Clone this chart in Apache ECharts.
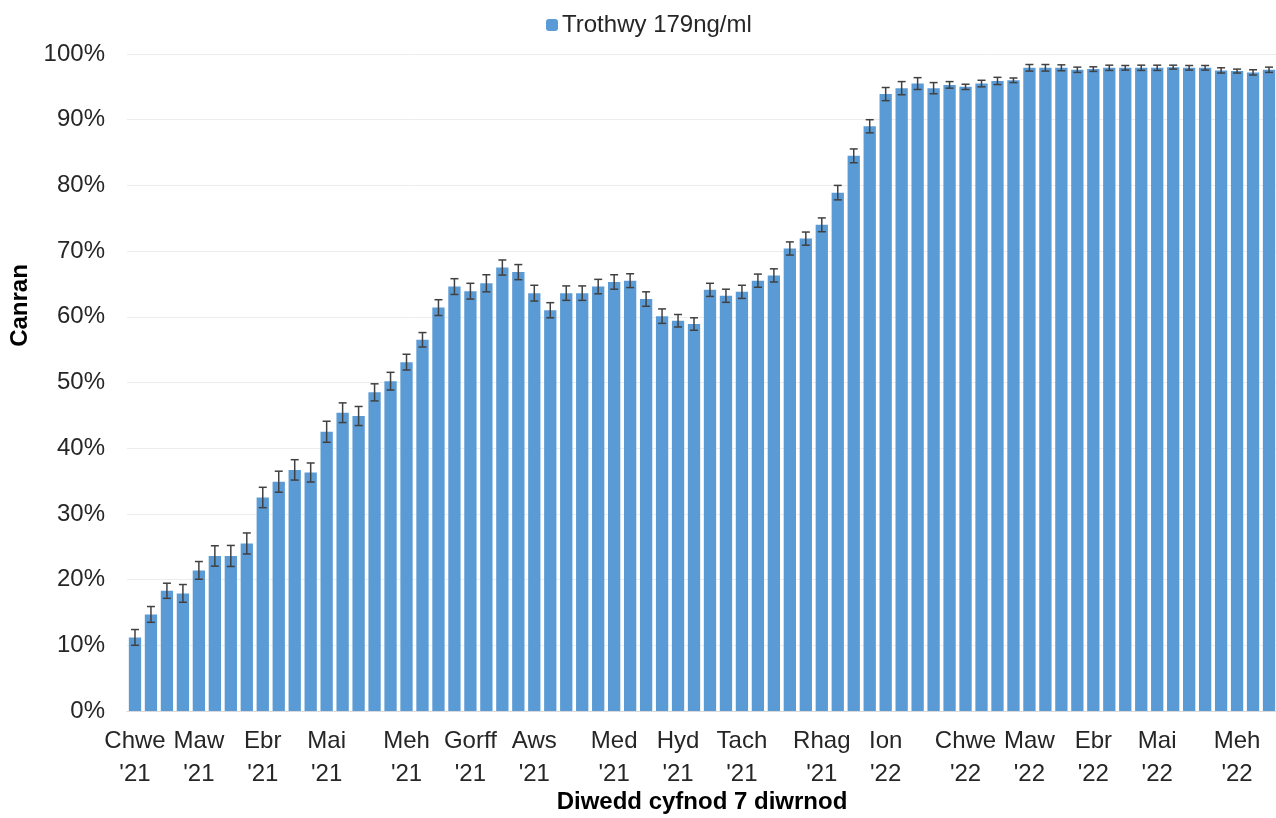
<!DOCTYPE html>
<html>
<head>
<meta charset="utf-8">
<script src="https://cdn.jsdelivr.net/npm/echarts@6/dist/echarts.min.js"></script>
<style>
  html, body { margin: 0; padding: 0; background: #fff; }
  #chart { width: 1276px; height: 818px; }
</style>
</head>
<body>
<div id="chart"></div>
<script>
// Week labels: only the first week of each month carries a label
const labelIndex = [0, 4, 8, 12, 17, 21, 25, 30, 34, 38, 43, 47, 52, 56, 60, 64, 69];
const labelText = [
  "Chwe\n'21", "Maw\n'21", "Ebr\n'21", "Mai\n'21", "Meh\n'21", "Gorff\n'21",
  "Aws\n'21", "Med\n'21", "Hyd\n'21", "Tach\n'21", "Rhag\n'21", "Ion\n'22",
  "Chwe\n'22", "Maw\n'22", "Ebr\n'22", "Mai\n'22", "Meh\n'22"
];

// Percentage of samples above threshold (179ng/ml), weekly
const values = [
  11.2, 14.7, 18.3, 17.9, 21.4, 23.6, 23.6, 25.5, 32.5, 34.9,
  36.7, 36.3, 42.5, 45.4, 44.9, 48.5, 50.2, 53.1, 56.5, 61.4,
  64.6, 63.9, 65.1, 67.5, 66.8, 63.6, 61.0, 63.6, 63.6, 64.6,
  65.3, 65.5, 62.7, 60.1, 59.4, 58.9, 64.1, 63.2, 63.8, 65.5,
  66.3, 70.4, 71.9, 74.0, 78.9, 84.5, 89.0, 93.9, 94.8, 95.5,
  94.8, 95.3, 95.0, 95.5, 95.9, 96.0, 97.9, 97.9, 97.9, 97.6,
  97.7, 97.9, 97.9, 97.9, 97.9, 98.0, 97.9, 97.9, 97.5, 97.4,
  97.2, 97.6
];

// Half-width of the confidence interval (percentage points)
const errors = [
  1.2, 1.2, 1.15, 1.35, 1.35, 1.55, 1.6, 1.6, 1.55, 1.6,
  1.55, 1.45, 1.6, 1.5, 1.45, 1.3, 1.35, 1.2, 1.1, 1.2,
  1.2, 1.2, 1.3, 1.15, 1.15, 1.2, 1.15, 1.1, 1.1, 1.1,
  1.1, 1.05, 1.1, 1.1, 0.95, 0.95, 1.0, 1.0, 1.0, 1.0,
  1.0, 1.0, 1.0, 1.05, 1.1, 1.05, 1.0, 1.0, 1.0, 0.9,
  0.85, 0.5, 0.4, 0.5, 0.55, 0.35, 0.5, 0.5, 0.45, 0.4,
  0.35, 0.4, 0.35, 0.4, 0.4, 0.3, 0.35, 0.35, 0.4, 0.3,
  0.4, 0.4
];

const yTicks = { min: 0, max: 100, interval: 10 };

const categories = values.map(function (v, i) {
  const k = labelIndex.indexOf(i);
  return k >= 0 ? labelText[k] : 'w' + (i + 1);
});
const errData = values.map(function (v, i) { return [i, v - errors[i], v + errors[i]]; });

const FONT = '"Liberation Sans", Arial, sans-serif';
const chart = echarts.init(document.getElementById('chart'), null, { renderer: 'canvas' });
chart.setOption({
  animation: false,
  backgroundColor: '#ffffff',
  textStyle: { fontFamily: FONT },
  legend: {
    data: ['Trothwy 179ng/ml'],
    left: 541,
    top: 8,
    itemWidth: 12,
    itemHeight: 12,
    itemGap: 10,
    textStyle: { fontSize: 24, color: '#262626', fontFamily: FONT, padding: [0, 0, 0, -1] }
  },
  grid: { left: 127, right: -1, top: 54, bottom: 107, containLabel: false, outerBoundsMode: 'none' },
  xAxis: {
    type: 'category',
    data: categories,
    name: 'Diwedd cyfnod 7 diwrnod',
    nameLocation: 'middle',
    nameGap: 79,
    nameMoveOverlap: false,
    nameTextStyle: { fontSize: 24, fontWeight: 'bold', color: '#000', fontFamily: FONT },
    axisLine: { show: true, lineStyle: { color: '#d9d9d9', width: 1 } },
    axisTick: { show: false },
    axisLabel: {
      interval: 0,
      fontSize: 24,
      lineHeight: 33,
      color: '#262626',
      margin: 14,
      fontFamily: FONT,
      formatter: function (val) { return /^w\d+$/.test(val) ? '' : val; }
    },
    splitLine: { show: false }
  },
  yAxis: {
    type: 'value',
    min: yTicks.min,
    max: yTicks.max,
    interval: yTicks.interval,
    name: 'Canran',
    nameLocation: 'middle',
    nameGap: 95,
    nameMoveOverlap: false,
    nameTextStyle: { fontSize: 24, fontWeight: 'bold', color: '#000', fontFamily: FONT, padding: [0, 0, 0, 154] },
    axisLine: { show: false },
    axisTick: { show: false },
    axisLabel: { fontSize: 24, color: '#262626', margin: 22, fontFamily: FONT, formatter: '{value}%' },
    splitLine: { show: true, lineStyle: { color: '#ececec', width: 1 } }
  },
  series: [
    {
      name: 'Trothwy 179ng/ml',
      type: 'bar',
      data: values,
      barCategoryGap: '23%',
      itemStyle: { color: '#5B9BD5' },
      z: 2
    },
    {
      name: 'err',
      type: 'custom',
      data: errData,
      z: 3,
      silent: true,
      renderItem: function (params, api) {
        const x = api.value(0);
        const lo = api.coord([x, api.value(1)]);
        const hi = api.coord([x, api.value(2)]);
        const hw = 4;
        const style = { stroke: '#404040', lineWidth: 1.5, fill: null };
        return {
          type: 'group',
          children: [
            { type: 'line', shape: { x1: lo[0], y1: lo[1], x2: hi[0], y2: hi[1] }, style: style },
            { type: 'line', shape: { x1: lo[0] - hw, y1: lo[1], x2: lo[0] + hw, y2: lo[1] }, style: style },
            { type: 'line', shape: { x1: hi[0] - hw, y1: hi[1], x2: hi[0] + hw, y2: hi[1] }, style: style }
          ]
        };
      }
    }
  ]
});
</script>
</body>
</html>
